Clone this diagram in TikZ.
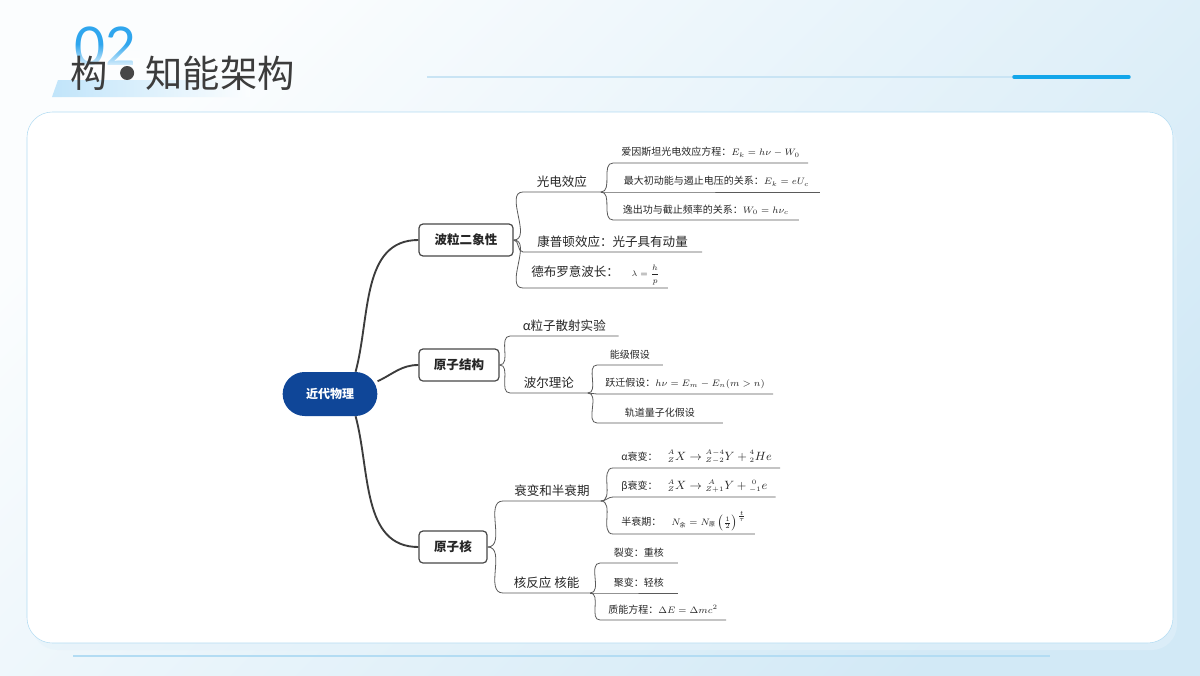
\documentclass[tikz,border=0pt]{standalone}
\usepackage{fontspec}
\setmainfont{Noto Sans CJK SC}
\newfontfamily\numfont{Lato}
\usepackage{tikz}
\usetikzlibrary{arrows.meta,positioning,calc,fadings}
\usepackage{xcolor}
\definecolor{ink}{HTML}{262626}
\definecolor{twig}{HTML}{5A5A5A}
\definecolor{rootblue}{HTML}{0F4698}
\definecolor{sky}{HTML}{12A6EA}
\definecolor{paleline}{HTML}{C9E4F4}
\definecolor{cardline}{HTML}{B3DCF3}
\definecolor{bgtl}{HTML}{FBFDFE}
\definecolor{bgbr}{HTML}{D2E9F6}
\definecolor{digit}{HTML}{2FA6EE}
\tikzset{
  every node/.style={text=ink},
  rootbox/.style={fill=rootblue,rounded corners=16.5pt,minimum width=71pt,minimum height=33pt,text=white,font=\fontsize{9}{11}\selectfont\bfseries},
  mainbox/.style={draw=ink!85,line width=0.9pt,rounded corners=3pt,fill=white,minimum height=24pt,font=\fontsize{9.4}{11}\selectfont\bfseries},
  topic/.style={anchor=south west,inner xsep=6pt,inner ysep=3pt,font=\fontsize{9.4}{11}\selectfont},
  leaf/.style={topic,inner ysep=4pt,font=\fontsize{7.5}{9}\selectfont},
  trunk/.style={line width=1.4pt,draw=ink!90},
  branch/.style={line width=0.6pt,draw=twig},
  heading/.style={inner sep=0pt,font=\fontsize{28}{30}\selectfont,text=ink!90},
}
\newcommand{\cjksub}[1]{\mbox{\fontsize{4.5}{5}\selectfont #1}}
\newcommand{\bigformula}[1]{{\fontsize{9}{11}\selectfont$#1$}}
\newcommand{\nuc}[3]{{}^{\scriptscriptstyle #1}_{\scriptscriptstyle #2}#3}

\begin{document}
\begin{tikzpicture}[x=0.75pt,y=-0.75pt]
\useasboundingbox (0,0) rectangle (1200,675);

% backdrop
\shade[top color=bgtl,bottom color=bgbr,shading angle=45] (0,0) rectangle (1200,675);
\fill[bgbr!60,rounded corners=19pt,opacity=0.5] (32,120) rectangle (1177,650);
\draw[cardline,fill=white,rounded corners=19pt] (27,112) rectangle (1173,643);
\draw[paleline,line width=1.1pt] (427,77) -- (1013,77);
\draw[sky,line width=2.6pt,line cap=round] (1014,77) -- (1129,77);
\draw[cardline,line width=1.1pt] (73,656) -- (1050,656);

% heading
\shade[left color=digit!30,right color=bgtl] (52,97) -- (58,80) -- (250,80) -- (250,97) -- cycle;
\node[font=\numfont\fontsize{40}{40}\selectfont,text=digit,inner sep=0pt] (num) at (105,46) {02};
\fill[white,path fading=north] (74,44) rectangle (140,70);
\node[heading,anchor=west] (tgou) at (70,73) {构};
\node[circle,fill=ink!85,minimum size=10.5pt,inner sep=0pt,right=9pt of tgou] (tdot) {};
\node[heading,right=8pt of tdot] (tname) {知能架构};

% root and main topics
\node[rootbox] (root) at (330,394) {近代物理};
\node[mainbox,minimum width=70.5pt] (blz) at (466,240) {波粒二象性};
\node[mainbox,minimum width=60pt] (yzjg) at (459,365) {原子结构};
\node[mainbox,minimum width=51pt] (yzh) at (453,547) {原子核};

% wave-particle duality
\node[topic,minimum width=58pt] (gd) at (523,192) {光电效应};
\node[topic,minimum width=134pt] (kp) at (523,252) {康普顿效应：光子具有动量};
\node[topic,minimum width=103pt,inner ysep=2pt] (db) at (523,288) {德布罗意波长：\quad{\fontsize{6.5}{8}\selectfont$\lambda=\displaystyle\frac{h}{p}$}};
\node[leaf,minimum width=144pt] (gd1) at (613,163) {爱因斯坦光电效应方程：$E_k=h\nu-W_0$};
\node[leaf,minimum width=155pt] (gd2) at (613,192) {最大初动能与遏止电压的关系：$E_k=eU_c$};
\node[leaf,minimum width=139pt] (gd3) at (613,220) {逸出功与截止频率的关系：$W_0=h\nu_c$};

% atomic structure
\node[topic,minimum width=81pt] (az) at (510,336) {α粒子散射实验};
\node[topic,minimum width=58pt] (be) at (510,393) {波尔理论};
\node[leaf,minimum width=49pt] (be1) at (597,365) {能级假设};
\node[leaf,minimum width=118pt] (be2) at (597,394) {跃迁假设：$h\nu=E_m-E_n(m>n)$};
\node[leaf,minimum width=94pt] (be3) at (597,423) {轨道量子化假设};

% nucleus
\node[topic,minimum width=73pt] (sb) at (503,501) {衰变和半衰期};
\node[topic,minimum width=65pt] (hf) at (503,593) {核反应\ 核能};
\node[leaf,minimum width=97pt,inner ysep=3pt] (sb1) at (613,468) {α衰变：\quad\bigformula{\nuc{A}{Z}{X}\to\nuc{A-4}{Z-2}{Y}+\nuc{4}{2}{He}}};
\node[leaf,minimum width=97.5pt,inner ysep=3pt] (sb2) at (613,497) {β衰变：\quad\bigformula{\nuc{A}{Z}{X}\to\nuc{\;A}{Z+1}{Y}+\nuc{\;0}{-1}{e}}};
\node[leaf,minimum width=88pt,inner ysep=2pt] (sb3) at (613,534) {半衰期：\quad$N_{\cjksub{余}}=N_{\cjksub{原}}\left(\frac{1}{2}\right)^{\frac{t}{\tau}}$};
\node[leaf,minimum width=58pt] (hf1) at (600,563) {裂变：重核};
\node[leaf,minimum width=58pt] (hf2) at (600,593) {聚变：轻核};
\node[leaf,minimum width=90pt] (hf3) at (600,620) {质能方程：$\Delta E=\Delta mc^2$};

% trunks
\draw[trunk] (root.41) to[out=75,in=180] (blz.west);
\draw[trunk] (root.15) to[out=25,in=180] (yzjg.west);
\draw[trunk] (root.-41) to[out=-75,in=180] (yzh.west);

% branches
\foreach \p/\c in {blz/gd,blz/kp,blz/db,yzjg/az,yzjg/be,yzh/sb,yzh/hf}
  \draw[branch] (\p.east) to[out=0,in=180] (\c.south west) -- (\c.south east);
\foreach \p/\c in {gd/gd1,gd/gd2,gd/gd3,be/be1,be/be2,be/be3,
                   sb/sb1,sb/sb2,sb/sb3,hf/hf1,hf/hf2,hf/hf3}
  \draw[branch] (\p.south east) to[out=0,in=180] (\c.south west) -- (\c.south east);

\end{tikzpicture}
\end{document}
